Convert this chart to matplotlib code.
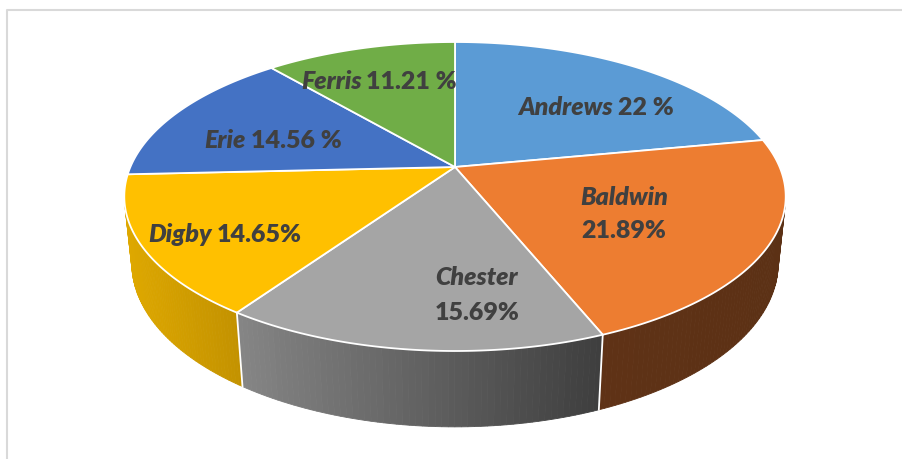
import numpy as np
import matplotlib.pyplot as plt
from matplotlib.patches import Polygon
from matplotlib.colors import to_rgb

# market share by company, clockwise from 12 o'clock
companies = ["Andrews", "Baldwin", "Chester", "Digby", "Erie", "Ferris"]
shares = [22.0, 21.89, 15.69, 14.65, 14.56, 11.21]
pct_labels = ["22 %", "21.89%", "15.69%", "14.65%", "14.56 %", "11.21 %"]

top_colors = ["#5B9BD5", "#ED7D31", "#A5A5A5", "#FFC000", "#4472C4", "#70AD47"]
# side wall shading (screen left colour, screen right colour)
side_colors = [("#3F6E99", "#3F6E99"), ("#5F3216", "#5C3115"),
               ("#858585", "#3E3E3E"), ("#DEA800", "#C39200"),
               ("#30518C", "#30518C"), ("#4F7B32", "#4F7B32")]

# label placement: centre x, baselines, stacked on two lines or not
label_x = [596, 624, 477, 225, 273, 379]
label_y = [(115,), (205, 238), (285, 320), (242,), (148,), (89,)]

# simple perspective camera for the disc
ELEV = np.radians(27.0)
DIST = 4.666
FOCAL = 1530.0
CX, CY = 455.0, 168.0
DEPTH = 0.23


def project(t, z):
    X = np.cos(t)
    Y = np.sin(t)
    yc = Y * np.sin(ELEV) + z * np.cos(ELEV)
    d = Y * np.cos(ELEV) - z * np.sin(ELEV) + DIST
    return CX + 0.99 * FOCAL * X / d, CY - FOCAL * yc / d


def mix(c1, c2, f):
    a = np.array(to_rgb(c1))
    b = np.array(to_rgb(c2))
    return tuple(a + (b - a) * f)


fig = plt.figure(figsize=(9.02, 4.60), dpi=100)
ax = fig.add_axes([0, 0, 1, 1])
ax.set_xlim(0, 902)
ax.set_ylim(460, 0)
ax.axis("off")

# chart frame
ax.plot([6.5, 6.5, 902], [460, 10.5, 10.5], color="#D9D9D9", lw=1.5)

# slice angle ranges (degrees, going clockwise)
starts = []
ends = []
a = 90.0
for s in shares:
    starts.append(a)
    a -= 360.0 * s / 100.0
    ends.append(a)

# visible part of the side wall
tan_t = np.degrees(np.arcsin(1.0 / (DIST * np.cos(ELEV))))
vis_hi, vis_lo = -tan_t, -180.0 + tan_t

for i in range(len(companies)):
    hi = min(starts[i], vis_hi)
    lo = max(ends[i], vis_lo)
    if hi <= lo:
        continue
    ts = np.radians(np.linspace(hi, lo, 60))
    xs_all = [project(t, 0)[0] for t in ts]
    xmin, xmax = min(xs_all), max(xs_all)
    for k in range(len(ts) - 1):
        t0, t1 = ts[k], ts[k + 1]
        pts = [project(t0, 0), project(t1, 0), project(t1, -DEPTH), project(t0, -DEPTH)]
        xm = (pts[0][0] + pts[1][0]) / 2
        f = (xm - xmin) / (xmax - xmin) if xmax > xmin else 0
        col = mix(side_colors[i][0], side_colors[i][1], f)
        ax.add_patch(Polygon(pts, closed=True, facecolor=col, edgecolor=col, lw=0.6))

# white seams on the side wall
for b in starts:
    bb = (b + 180) % 360 - 180
    if vis_lo < bb < vis_hi:
        t = np.radians(bb)
        p0 = project(t, 0)
        p1 = project(t, -DEPTH)
        ax.plot([p0[0], p1[0]], [p0[1], p1[1]], color="white", lw=1.3)

# top face
for i in range(len(companies)):
    ts = np.radians(np.linspace(starts[i], ends[i], 120))
    pts = [(CX, CY)] + [project(t, 0) for t in ts]
    ax.add_patch(Polygon(pts, closed=True, facecolor=top_colors[i],
                         edgecolor="white", lw=1.3, joinstyle="round"))

# labels
renderer = fig.canvas.get_renderer()
font = dict(family=["Lato", "DejaVu Sans"], size=18, weight="heavy", color="#404040")
for i in range(len(companies)):
    ys = label_y[i]
    if len(ys) == 2:
        ax.text(label_x[i], ys[0], companies[i], style="italic", ha="center", va="baseline", **font)
        ax.text(label_x[i], ys[1], pct_labels[i], ha="center", va="baseline", **font)
    else:
        t1 = ax.text(0, ys[0], companies[i], style="italic", ha="left", va="baseline", **font)
        t2 = ax.text(0, ys[0], pct_labels[i], ha="left", va="baseline", **font)
        w1 = t1.get_window_extent(renderer).width
        w2 = t2.get_window_extent(renderer).width
        gap = 5
        x0 = label_x[i] - (w1 + gap + w2) / 2
        t1.set_x(x0)
        t2.set_x(x0 + w1 + gap)

fig.savefig("out.png", dpi=100, facecolor="white")
